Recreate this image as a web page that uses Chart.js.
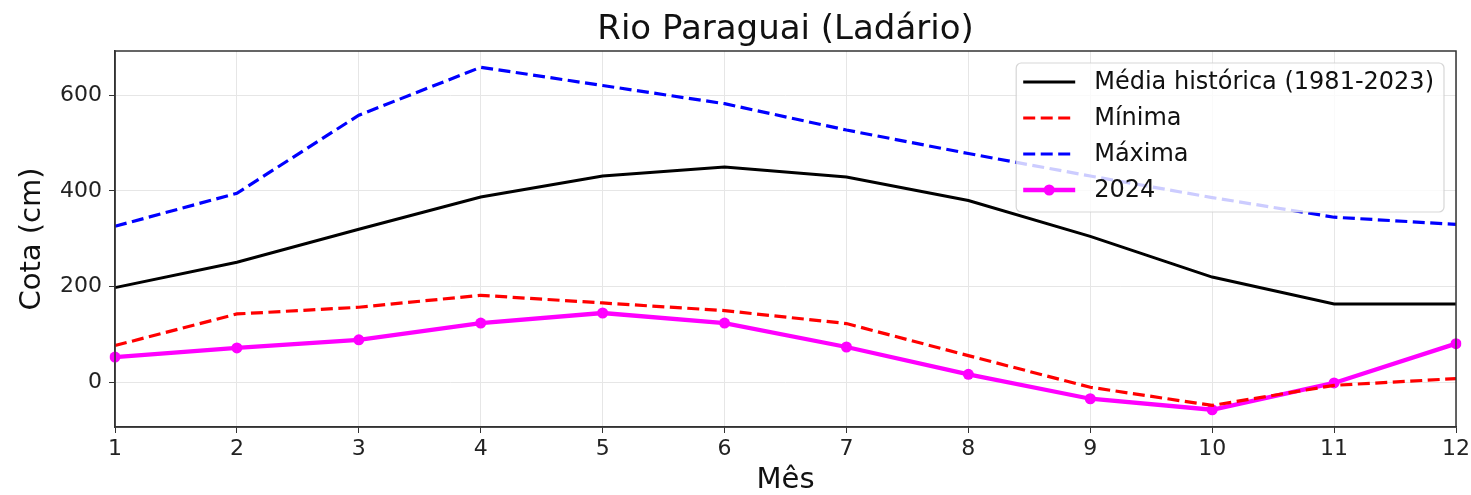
<!DOCTYPE html>
<html>
<head>
<meta charset="utf-8">
<script src="https://cdn.jsdelivr.net/npm/chart.js@4.4.1/dist/chart.umd.min.js"></script>
<style>
  html, body { margin: 0; padding: 0; background: #fff; }
  #wrap { width: 1471px; height: 495px; }
</style>
</head>
<body>
<div id="wrap"><canvas id="cotaChart" width="1471" height="495"></canvas></div>
<script>
// Dados (cota em cm por mês)
const meses = [1, 2, 3, 4, 5, 6, 7, 8, 9, 10, 11, 12];
const mediaHistorica = [198, 251, 320, 387, 431, 450, 429, 380, 305, 220, 164, 164];
const minima = [77, 143, 157, 182, 166, 150, 123, 56, -10, -48, -6, 8];
const maxima = [326, 395, 558, 658, 620, 582, 527, 478, 431, 386, 345, 330];
const cota2024 = [53, 72, 89, 124, 145, 124, 74, 17, -34, -57, -1, 81];
const yTicks = [0, 200, 400, 600];

const FONT = "'DejaVu Sans', sans-serif";

// Moldura do eixo + legenda dentro da área do gráfico
const frameAndLegend = {
    id: 'frameAndLegend',
    afterDatasetsDraw(chart) {
        const { ctx, chartArea } = chart;
        ctx.save();
        ctx.strokeStyle = '#333';
        ctx.lineWidth = 1.5;
        ctx.strokeRect(chartArea.left, chartArea.top, chartArea.right - chartArea.left, chartArea.bottom - chartArea.top);

        const sets = chart.data.datasets;
        ctx.font = `24px ${FONT}`;
        const textW = Math.max(...sets.map(d => ctx.measureText(d.label).width));
        const w = 78 + textW + 10;
        const h = 149;
        const x = chartArea.right - 12 - w;
        const y = chartArea.top + 12;

        ctx.beginPath();
        ctx.roundRect(x, y, w, h, 5);
        ctx.fillStyle = 'rgba(255,255,255,0.8)';
        ctx.fill();
        ctx.strokeStyle = 'rgba(204,204,204,0.8)';
        ctx.lineWidth = 1.2;
        ctx.stroke();

        sets.forEach((d, i) => {
            const cy = y + 19 + i * 36;
            ctx.beginPath();
            ctx.setLineDash(d.borderDash || []);
            ctx.strokeStyle = d.borderColor;
            ctx.lineWidth = d.borderWidth;
            ctx.moveTo(x + 7, cy);
            ctx.lineTo(x + 59, cy);
            ctx.stroke();
            ctx.setLineDash([]);
            if (d.pointRadius > 0) {
                ctx.beginPath();
                ctx.arc(x + 33, cy, d.pointRadius, 0, Math.PI * 2);
                ctx.fillStyle = d.pointBackgroundColor;
                ctx.fill();
            }
            ctx.fillStyle = '#111';
            ctx.textBaseline = 'middle';
            ctx.textAlign = 'left';
            ctx.fillText(d.label, x + 78, cy + 1);
        });
        ctx.restore();
    }
};

new Chart(document.getElementById('cotaChart'), {
    type: 'line',
    data: {
        labels: meses,
        datasets: [
            {
                label: 'Média histórica (1981-2023)',
                data: mediaHistorica,
                borderColor: '#000000',
                borderWidth: 3,
                pointRadius: 0,
                tension: 0
            },
            {
                label: 'Mínima',
                data: minima,
                borderColor: '#ff0000',
                borderWidth: 3.2,
                borderDash: [12, 5.5],
                pointRadius: 0,
                tension: 0
            },
            {
                label: 'Máxima',
                data: maxima,
                borderColor: '#0000ff',
                borderWidth: 3.2,
                borderDash: [12, 5.5],
                pointRadius: 0,
                tension: 0
            },
            {
                label: '2024',
                data: cota2024,
                borderColor: '#ff00ff',
                backgroundColor: '#ff00ff',
                pointBackgroundColor: '#ff00ff',
                pointBorderWidth: 0,
                borderWidth: 4.3,
                pointRadius: 5.5,
                tension: 0
            }
        ]
    },
    options: {
        responsive: false,
        animation: false,
        layout: { padding: { left: 0, right: 15, top: 0, bottom: 0 } },
        plugins: {
            legend: { display: false },
            tooltip: { enabled: false },
            title: {
                display: true,
                fullSize: false,
                text: 'Rio Paraguai (Ladário)',
                color: '#111',
                font: { family: FONT, size: 34, weight: 'normal', lineHeight: 1.2 },
                padding: { top: 10, bottom: 0.2 }
            }
        },
        scales: {
            x: {
                offset: false,
                grid: { color: '#e6e6e6', lineWidth: 1, tickColor: '#333', tickLength: 6 },
                border: { color: '#333', width: 1.5 },
                ticks: { color: '#222', font: { family: FONT, size: 22 }, padding: 3, maxRotation: 0, autoSkip: false },
                title: {
                    display: true,
                    text: 'Mês',
                    color: '#111',
                    font: { family: FONT, size: 29, lineHeight: 1 },
                    padding: 0
                },
                afterFit(scale) {
                    scale.height = 68;
                    scale.paddingLeft = 0;
                    scale.paddingRight = 0;
                }
            },
            y: {
                min: -93,
                max: 692,
                afterBuildTicks(scale) {
                    scale.ticks = yTicks.map(v => ({ value: v }));
                },
                grid: { color: '#e6e6e6', lineWidth: 1, tickColor: '#333', tickLength: 6 },
                border: { color: '#333', width: 1.5 },
                ticks: { color: '#222', font: { family: FONT, size: 22 }, padding: 7 },
                title: {
                    display: true,
                    text: 'Cota (cm)',
                    color: '#111',
                    font: { family: FONT, size: 29, lineHeight: 1.2 },
                    padding: { top: 15, bottom: 0 }
                },
                afterFit(scale) {
                    scale.width = 115;
                    scale.paddingTop = 0;
                    scale.paddingBottom = 0;
                }
            }
        }
    },
    plugins: [frameAndLegend]
});
</script>
</body>
</html>
